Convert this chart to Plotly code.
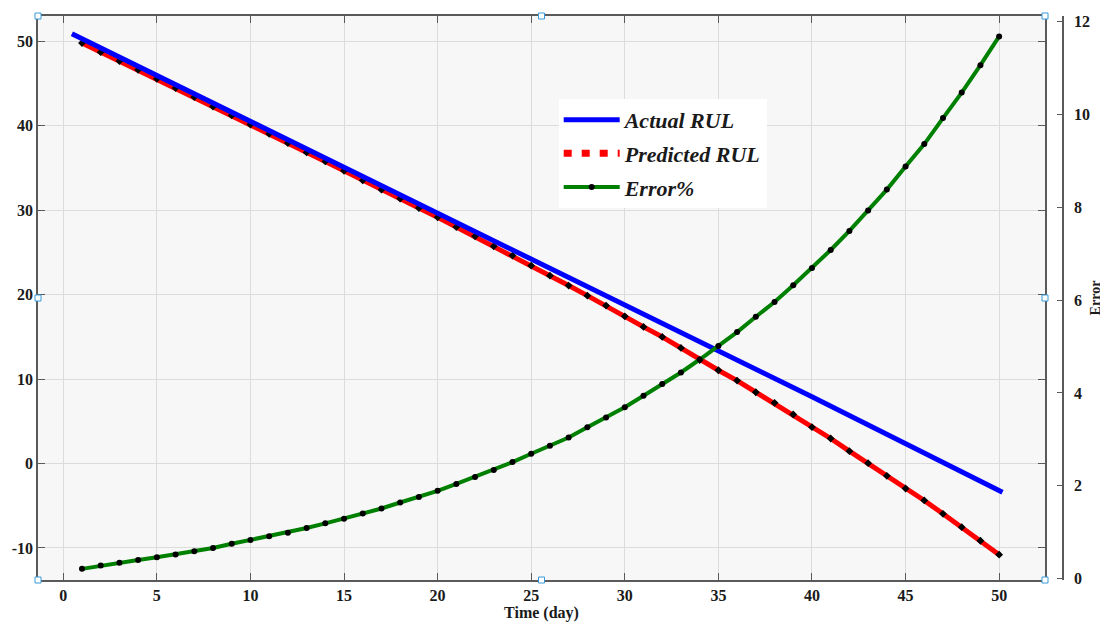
import plotly.graph_objects as go

# ---- data ----
days = list(range(1, 51))

predicted_rul = [49.79, 48.72, 47.66, 46.63, 45.56, 44.46, 43.40, 42.28, 41.22, 40.15,
                 39.05, 37.95, 36.84, 35.78, 34.67, 33.53, 32.43, 31.36, 30.26, 29.15,
                 28.01, 26.90, 25.72, 24.62, 23.43, 22.25, 21.07, 19.88, 18.70, 17.43,
                 16.18, 14.99, 13.69, 12.25, 11.04, 9.82, 8.44, 7.18, 5.80, 4.30,
                 2.96, 1.46, 0.04, -1.46, -2.96, -4.38, -5.96, -7.54, -9.15, -10.80]

error_pct = [0.21, 0.28, 0.34, 0.40, 0.46, 0.52, 0.59, 0.66, 0.75, 0.83,
             0.91, 0.99, 1.09, 1.19, 1.29, 1.40, 1.51, 1.64, 1.76, 1.89,
             2.04, 2.19, 2.34, 2.51, 2.69, 2.86, 3.04, 3.26, 3.47, 3.69,
             3.94, 4.19, 4.44, 4.72, 5.01, 5.31, 5.64, 5.96, 6.32, 6.69,
             7.08, 7.49, 7.93, 8.38, 8.88, 9.36, 9.92, 10.47, 11.06, 11.68]

actual_days = [0.46, 10, 20, 30, 40, 50.18]
actual_rul = [50.89, 40.5, 29.6, 18.7, 7.9, -3.4]

x_ticks = [0, 5, 10, 15, 20, 25, 30, 35, 40, 45, 50]
y_ticks = [-10, 0, 10, 20, 30, 40, 50]
y_labels = ["-10", "0", "10", "20", "30", "40", "50"]
y2_ticks = [0, 2, 4, 6, 8, 10, 12]

handle_fracs = [(0, 0), (0.5, 0), (1, 0), (0, 0.5), (1, 0.5), (0, 1), (0.5, 1), (1, 1)]

SERIF = "Liberation Serif, Times New Roman, serif"
AXIS_COL = "#5a5a5a"
TXT = "#1a1a1a"

fig = go.Figure()

# predicted RUL (drawn first so blue sits over it)
fig.add_trace(go.Scatter(
    x=days, y=predicted_rul, mode="lines+markers",
    line=dict(color="#ff0000", width=5),
    marker=dict(symbol="diamond", size=6, color="black"),
    showlegend=False, hoverinfo="skip", yaxis="y"))

fig.add_trace(go.Scatter(
    x=actual_days, y=actual_rul, mode="lines",
    line=dict(color="#0000ff", width=5),
    name="Actual RUL", legendgroup="a", legendrank=1, yaxis="y"))

# legend entry for predicted (dotted symbol)
fig.add_trace(go.Scatter(
    x=[None], y=[None], mode="lines",
    line=dict(color="#ff0000", width=7, dash="8px,10px"),
    name="Predicted RUL", legendgroup="b", legendrank=2, yaxis="y"))

fig.add_trace(go.Scatter(
    x=days, y=error_pct, mode="lines+markers",
    line=dict(color="#008000", width=4),
    marker=dict(symbol="circle", size=6, color="black"),
    name="Error%", legendgroup="c", legendrank=3, yaxis="y2"))

shapes = []
for fx, fy in handle_fracs:
    shapes.append(dict(type="rect", xref="x domain", yref="y domain",
                       xsizemode="pixel", ysizemode="pixel",
                       xanchor=fx, yanchor=fy, x0=-3, x1=3, y0=-3, y1=3,
                       line=dict(color="#3a9ad9", width=1), fillcolor="white",
                       layer="above"))

fig.update_layout(
    width=1100, height=618,
    margin=dict(l=30, r=45, t=8, b=46, autoexpand=False),
    paper_bgcolor="white",
    plot_bgcolor="#f7f7f7",
    font=dict(family=SERIF, color=TXT),
    shapes=shapes,
    legend=dict(
        x=0.508, y=0.853, xanchor="left", yanchor="top",
        bgcolor="white", borderwidth=0,
        font=dict(family=SERIF, size=22, color=TXT, weight="bold", style="italic"),
        tracegroupgap=2, itemwidth=56, traceorder="grouped",
        entrywidth=222,
    ),
    xaxis=dict(
        domain=[0, 0.98244], range=[-1.35, 52.45], automargin=False,
        tickvals=x_ticks, ticks="inside", ticklen=7, tickcolor=AXIS_COL,
        showline=True, linecolor=AXIS_COL, linewidth=1.5, mirror="ticks",
        showgrid=True, gridcolor="#dcdcdc", gridwidth=1, zeroline=False,
        tickfont=dict(family=SERIF, size=16, weight="bold", color=TXT),
        title=dict(text="Time (day)", standoff=4,
                   font=dict(family=SERIF, size=16, weight="bold", color=TXT)),
    ),
    yaxis=dict(
        range=[-13.8, 53.0], tickvals=y_ticks, ticktext=y_labels, automargin=False,
        ticks="inside", ticklen=7, tickcolor=AXIS_COL,
        showline=True, linecolor=AXIS_COL, linewidth=1.5, mirror="ticks",
        showgrid=True, gridcolor="#dcdcdc", gridwidth=1, zeroline=False,
        tickfont=dict(family=SERIF, size=16, weight="bold", color=TXT),
    ),
    yaxis2=dict(
        overlaying="y", side="right", anchor="free", position=1.0, automargin=False,
        range=[-0.03, 12.12], tickvals=y2_ticks, ticks="inside", ticklen=5,
        tickcolor=AXIS_COL, ticklabelstandoff=7,
        showline=True, linecolor=AXIS_COL, linewidth=1.5,
        showgrid=False, zeroline=False,
        tickfont=dict(family=SERIF, size=16, weight="bold", color=TXT),
        title=dict(text="Error", standoff=0,
                   font=dict(family=SERIF, size=14, weight="bold", color=TXT)),
    ),
)

fig.write_html("out.html")
